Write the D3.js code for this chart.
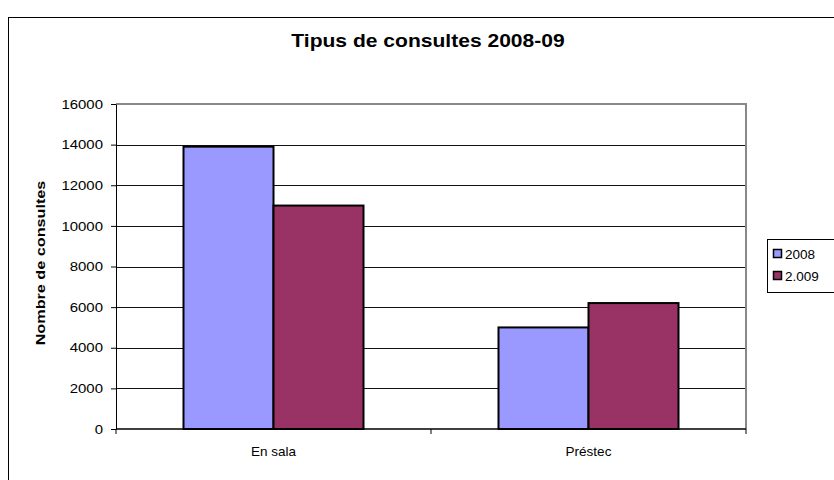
<!DOCTYPE html>
<html>
<head>
<meta charset="utf-8">
<script src="https://cdn.jsdelivr.net/npm/d3@7"></script>
<style>
  body { margin: 0; background: #fff; }
  text { font-family: "Liberation Sans", Arial, sans-serif; }
</style>
</head>
<body>
<div id="chart"></div>
<script>
// data
var categories = ["En sala", "Préstec"];
var seriesNames = ["2008", "2.009"];
var values2008 = [13900, 5000];
var values2009 = [11000, 6200];
var yTicks = [0, 2000, 4000, 6000, 8000, 10000, 12000, 14000, 16000];
var colors = ["#9999ff", "#993366"];

// set the dimensions and margins of the graph
var margin = { top: 104, right: 88, bottom: 51, left: 116 },
  width = 834 - margin.left - margin.right,
  height = 480 - margin.top - margin.bottom;

var root = d3.select("#chart")
  .append("svg")
  .attr("width", 834)
  .attr("height", 480);

// outer chart border
root.append("rect")
  .attr("x", 8.5)
  .attr("y", 17.5)
  .attr("width", 840)
  .attr("height", 480)
  .style("fill", "none")
  .style("stroke", "black")
  .style("stroke-width", 1);

// title (text is a bit wider in the original, so stretch it)
root.append("text")
  .attr("transform", "translate(428,47) scale(1.17,1)")
  .attr("text-anchor", "middle")
  .attr("font-size", 18)
  .attr("font-weight", "bold")
  .text("Tipus de consultes 2008-09");

var svg = root.append("g")
  .attr("transform", "translate(" + margin.left + "," + margin.top + ")");

// scales
var x0 = d3.scaleBand()
  .domain(categories)
  .range([0, width]);

var x1 = d3.scaleBand()
  .domain(seriesNames)
  .range([0, x0.bandwidth()])
  .paddingOuter(0.75);

var y = d3.scaleLinear()
  .domain([0, 16000])
  .range([height, 0]);

// gridlines
svg.selectAll(".grid")
  .data(yTicks.filter(function (d) { return d > 0 && d < 16000; }))
  .enter()
  .append("line")
  .attr("x1", 0)
  .attr("x2", width)
  .attr("y1", function (d) { return Math.round(y(d)) + 0.5; })
  .attr("y2", function (d) { return Math.round(y(d)) + 0.5; })
  .style("stroke", "#111")
  .style("stroke-width", 1);

// plot area border (top + right)
svg.append("path")
  .attr("d", "M0," + y(16000) + "H" + width + "V" + height)
  .style("fill", "none")
  .style("stroke", "#888")
  .style("stroke-width", 2);

// bars
var rows = categories.map(function (c, i) {
  return { cat: c, vals: [values2008[i], values2009[i]] };
});

svg.selectAll(".grp")
  .data(rows)
  .enter()
  .append("g")
  .attr("transform", function (d) { return "translate(" + x0(d.cat) + ",0)"; })
  .selectAll("rect")
  .data(function (d) {
    return d.vals.map(function (v, j) { return { key: seriesNames[j], value: v, idx: j }; });
  })
  .enter()
  .append("rect")
  .attr("x", function (d) { return x1(d.key); })
  .attr("y", function (d) { return y(d.value); })
  .attr("width", x1.bandwidth())
  .attr("height", function (d) { return height - y(d.value); })
  .style("fill", function (d) { return colors[d.idx]; })
  .style("stroke", "black")
  .style("stroke-width", 2);

// axes
var yAxis = svg.append("g")
  .call(d3.axisLeft(y).tickValues(yTicks).tickSize(5).tickSizeOuter(0).tickFormat(d3.format("d")));
yAxis.selectAll("text")
  .attr("font-size", 13)
  .attr("fill", "black")
  .attr("x", 0)
  .attr("transform", "translate(-13,0) scale(1.15,1)");
yAxis.select(".domain").style("stroke", "black");

var xAxis = svg.append("g")
  .attr("transform", "translate(0," + height + ")");
xAxis.append("line")
  .attr("x1", 0).attr("x2", width)
  .style("stroke", "black").style("stroke-width", 1.5);
xAxis.selectAll(".tk")
  .data(d3.range(categories.length + 1))
  .enter()
  .append("line")
  .attr("x1", function (d) { return d * x0.step(); })
  .attr("x2", function (d) { return d * x0.step(); })
  .attr("y1", 0).attr("y2", 5)
  .style("stroke", "black");
xAxis.selectAll(".lbl")
  .data(categories)
  .enter()
  .append("text")
  .attr("x", function (d) { return x0(d) + x0.bandwidth() / 2; })
  .attr("y", 27)
  .attr("text-anchor", "middle")
  .attr("font-size", 13.5)
  .text(function (d) { return d; });

// y axis label
root.append("text")
  .attr("transform", "translate(45,263) rotate(-90) scale(1.2,1)")
  .attr("text-anchor", "middle")
  .attr("font-size", 13.5)
  .attr("font-weight", "bold")
  .text("Nombre de consultes");

// legend
var legend = root.append("g").attr("transform", "translate(767,239)");
legend.append("rect")
  .attr("x", 0.5).attr("y", 0.5)
  .attr("width", 80).attr("height", 53)
  .style("fill", "white")
  .style("stroke", "black");
seriesNames.forEach(function (s, i) {
  legend.append("rect")
    .attr("x", 6.5).attr("y", 10.5 + i * 22)
    .attr("width", 8).attr("height", 8)
    .style("fill", colors[i])
    .style("stroke", "black")
    .style("stroke-width", 1.5);
  legend.append("text")
    .attr("x", 18).attr("y", 20 + i * 22)
    .attr("font-size", 13.5)
    .text(s);
});
</script>
</body>
</html>
